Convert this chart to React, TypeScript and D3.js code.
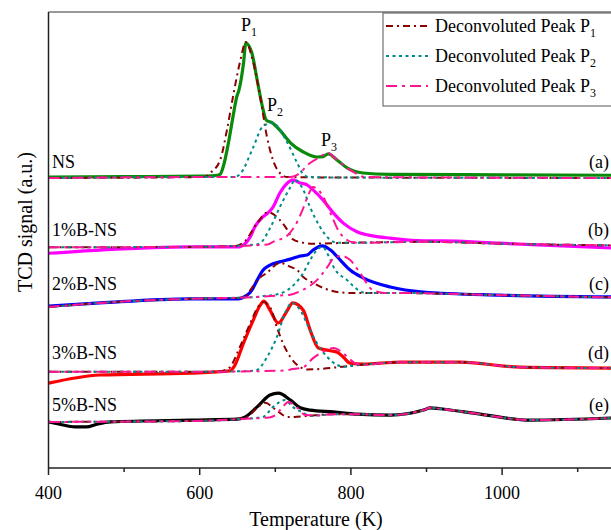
import React from "react";
import * as d3 from "d3";

type Pt = [number, number];

// ---------- data (Temperature K, TCD signal a.u.) ----------
const xMajorTicks = [400, 600, 800, 1000];
const xMinorTicks = [500, 700, 900, 1100];

// NS
const nsSignal: Pt[] = [[400,63.8],[500,63.9],[600,64.0],[620,64.1],[627,64.4],[631,66.0],[638,71.3],[644,77.0],[649,81.4],[652,82.9],[658,88.8],[661,93.2],[669,91.0],[676,85.1],[683,79.2],[688,76.3],[696,75.7],[706,74.1],[720,71.3],[737,69.3],[755,68.2],[763,68.3],[770,68.9],[782,67.5],[795,65.8],[816,64.7],[852,64.4],[1000,64.3],[1150,64.2]];
const nsBase: Pt[] = [[400,63.6],[600,63.8],[800,63.7],[1150,63.6]];
const nsP1: Pt[] = [[608,63.9],[614,64.7],[627,67.5],[636,74.1],[644,81.4],[653,88.8],[661,93.4],[670,89.5],[680,81.4],[689,72.6],[697,67.5],[706,64.7],[716,63.8]];
const nsP2: Pt[] = [[645,63.8],[653,64.4],[671,70.4],[683,74.8],[696,75.7],[716,71.3],[729,66.9],[737,64.4],[745,63.8]];
const nsP3: Pt[] = [[720,63.8],[729,64.3],[746,66.9],[759,68.2],[769,69.1],[782,67.5],[795,65.8],[808,64.5],[818,63.8]];

// 1%B-NS
const b1Signal: Pt[] = [[400,47.1],[468,47.8],[587,48.5],[653,48.5],[658,48.9],[667,50.7],[673,52.9],[683,55.0],[690,55.9],[697,57.2],[706,60.3],[716,62.5],[723,63.2],[733,62.5],[742,62.1],[750,61.0],[763,58.8],[777,55.9],[790,53.7],[808,51.8],[829,50.9],[852,50.4],[896,49.8],[918,49.8],[997,49.3],[1150,48.2]];
const b1Base: Pt[] = [[400,48.4],[600,48.5],[700,48.9],[800,49.4],[900,49.6],[1000,49.2],[1150,48.8]];
const b1P1: Pt[] = [[648,48.7],[660,49.8],[676,53.7],[690,56.1],[706,54.4],[716,52.2],[723,50.2],[737,49.4],[750,49.2]];
const b1P2: Pt[] = [[674,49.0],[680,49.3],[693,52.6],[706,57.2],[720,61.6],[726,63.2],[737,61.0],[746,57.2],[759,52.9],[773,50.0],[782,49.4],[792,49.4]];
const b1P3: Pt[] = [[690,49.0],[697,49.6],[716,51.0],[729,54.0],[737,57.0],[744,60.0],[750,61.6],[762,59.9],[773,55.9],[783,52.2],[795,50.0],[803,49.5],[812,49.4]];

// 2%B-NS
const b2Signal: Pt[] = [[400,35.5],[468,36.2],[587,37.1],[650,37.1],[656,37.3],[669,39.0],[676,41.2],[684,43.4],[693,44.5],[706,45.2],[720,45.8],[733,46.5],[742,46.7],[750,47.8],[762,48.7],[773,47.8],[786,45.6],[799,43.4],[816,41.7],[852,39.7],[896,38.6],[997,37.9],[1150,37.5]];
const b2Base: Pt[] = [[400,35.3],[468,36.2],[587,37.1],[660,37.4],[750,38.0],[800,38.4],[850,38.4],[1000,37.9],[1150,37.4]];
const b2P1: Pt[] = [[650,37.3],[660,37.6],[669,39.5],[676,41.2],[689,42.8],[706,45.0],[720,44.1],[729,43.4],[737,41.9],[750,40.6],[763,39.5],[782,38.6],[799,38.4]];
const b2P2: Pt[] = [[676,37.5],[683,37.7],[700,38.0],[716,39.0],[737,42.8],[746,45.6],[755,47.8],[762,48.5],[773,45.6],[777,44.1],[795,41.2],[812,38.8],[819,38.4],[830,38.4]];
const b2P3: Pt[] = [[712,37.9],[720,38.0],[733,38.8],[755,41.2],[769,44.1],[777,46.0],[788,46.5],[799,45.6],[812,42.8],[829,39.0],[845,38.4]];

// 3%B-NS
const b3Signal: Pt[] = [[400,18.6],[468,20.4],[587,20.8],[640,21.3],[645,22.1],[658,27.4],[671,32.5],[680,35.7],[685,36.6],[693,34.6],[704,31.8],[716,34.6],[723,36.2],[737,34.6],[746,30.3],[757,26.3],[773,25.7],[782,25.4],[790,24.3],[799,23.0],[816,22.8],[839,23.0],[865,23.2],[945,23.2],[1024,22.1],[1150,21.9]];
const b3Base: Pt[] = [[400,21.1],[600,21.1],[700,21.3],[800,22.4],[839,23.0],[865,23.2],[945,23.2],[1024,22.1],[1150,21.9]];
const b3P1: Pt[] = [[628,21.2],[634,21.5],[640,22.1],[653,26.5],[667,31.8],[677,35.3],[684,36.4],[693,35.3],[702,30.9],[710,27.4],[720,24.3],[733,22.1],[742,21.6]];
const b3P2: Pt[] = [[670,21.3],[676,21.5],[689,24.3],[702,28.7],[713,34.0],[722,36.2],[733,34.6],[744,30.9],[755,27.4],[769,24.3],[782,22.6],[792,22.2]];
const b3P3: Pt[] = [[714,21.4],[720,21.6],[737,22.1],[750,24.1],[762,25.4],[777,26.3],[788,25.4],[797,24.1],[808,22.8],[822,22.6]];

// 5%B-NS
const b5Signal: Pt[] = [[400,10.1],[415,9.6],[435,9.0],[450,9.0],[464,9.6],[482,10.1],[587,10.5],[650,10.7],[658,11.0],[676,13.4],[693,16.0],[704,16.4],[720,14.9],[733,13.2],[746,12.7],[777,12.3],[808,11.8],[852,11.6],[896,12.7],[905,13.2],[918,13.0],[971,11.8],[1037,10.5],[1150,11.0]];
const b5Base: Pt[] = [[400,10.1],[587,10.3],[660,10.8],[740,11.4],[777,11.8],[808,11.8],[852,11.6],[896,12.7],[905,13.2],[918,13.0],[971,11.8],[1037,10.5],[1150,11.0]];
const b5P1: Pt[] = [[655,10.9],[663,11.2],[676,13.2],[687,14.3],[697,13.2],[706,12.1],[716,11.2],[725,11.2]];
const b5P2: Pt[] = [[676,11.0],[684,11.2],[697,13.4],[713,14.9],[723,13.4],[737,12.1],[746,11.4],[755,11.5]];
const b5P3: Pt[] = [[692,11.1],[700,11.6],[710,13.4],[717,14.5],[729,13.2],[740,11.6],[750,11.5]];

const sampleNames = ["NS", "1%B-NS", "2%B-NS", "3%B-NS", "5%B-NS"];
const sampleTags = ["(a)", "(b)", "(c)", "(d)", "(e)"];
const sampleColors = ["#0a8a0a", "#ff00ff", "#0000ff", "#ff0000", "#000000"];
const signals = [nsSignal, b1Signal, b2Signal, b3Signal, b5Signal];
const bases = [nsBase, b1Base, b2Base, b3Base, b5Base];
const peaks = [
  [nsP1, nsP2, nsP3],
  [b1P1, b1P2, b1P3],
  [b2P1, b2P2, b2P3],
  [b3P1, b3P2, b3P3],
  [b5P1, b5P2, b5P3],
];
const labelBaselines = [168, 236, 290, 359, 411];

const peakNames = ["1", "2", "3"];
const peakColors = ["#8b0000", "#008b8b", "#ff1493"];
const peakDashes = ["7,4,2,4", "3,3.5", "11,5,3,5"];

// ---------- layout ----------
const W = 611;
const H = 530;
const left = 48.5;
const top = 12;
const bottom = 468;
const FONT = '"Liberation Serif", "Times New Roman", Tinos, "DejaVu Serif", serif';

const x = d3.scaleLinear().domain([400, 1150]).range([left, left + 750 * 0.756]);
const y = d3.scaleLinear().domain([0, 100]).range([bottom, top]);
const line = d3
  .line<Pt>()
  .x((d) => x(d[0]))
  .y((d) => y(d[1]))
  .curve(d3.curveMonotoneX);

function withBase(base: Pt[], peak: Pt[]): Pt[] {
  const t0 = peak[0][0];
  const t1 = peak[peak.length - 1][0];
  return [...base.filter((d) => d[0] < t0), ...peak, ...base.filter((d) => d[0] > t1)];
}

const txt = (size: number) => ({ fontFamily: FONT, fontSize: size + "px" });

function PLabel({ px, py, sub }: { px: number; py: number; sub: string }) {
  return (
    <text x={px} y={py} style={txt(18)} fill="#000">
      P
      <tspan style={{ fontSize: "12px" }} dy={5}>
        {sub}
      </tspan>
    </text>
  );
}

export default function App() {
  const legendRows = [26, 56, 86];
  return (
    <svg
      width={W}
      height={H}
      viewBox={`0 0 ${W} ${H}`}
      style={{ position: "absolute", left: 0, top: 0, background: "#fff", fontFamily: FONT }}
    >
      <defs>
        <clipPath id="plot">
          <rect x={left} y={top} width={W - left} height={bottom - top} />
        </clipPath>
      </defs>
      <rect x={0} y={0} width={W} height={H} fill="#fff" />

      <g clipPath="url(#plot)">
        {signals.map((s, i) => (
          <path key={"s" + i} d={line(s) || ""} fill="none" stroke={sampleColors[i]} strokeWidth={3.2} strokeLinejoin="round" />
        ))}
        {peaks.map((ps, i) =>
          ps.map((p, j) => (
            <path
              key={`p${i}-${j}`}
              d={line(withBase(bases[i], p)) || ""}
              fill="none"
              stroke={peakColors[j]}
              strokeWidth={2}
              strokeDasharray={peakDashes[j]}
            />
          ))
        )}
      </g>

      {/* frame */}
      <line x1={left} x2={W} y1={top} y2={top} stroke="#333" strokeWidth={1.2} />
      <line x1={left} x2={left} y1={top} y2={bottom} stroke="#222" strokeWidth={1.5} />
      <line x1={left} x2={W} y1={bottom} y2={bottom} stroke="#222" strokeWidth={1.5} />

      {/* x ticks */}
      {xMajorTicks.map((t) => (
        <g key={"M" + t}>
          <line x1={x(t)} x2={x(t)} y1={bottom} y2={bottom + 7} stroke="#222" strokeWidth={1.5} />
          <text x={x(t)} y={499} textAnchor="middle" style={txt(18)}>
            {t}
          </text>
        </g>
      ))}
      {xMinorTicks.map((t) => (
        <line key={"m" + t} x1={x(t)} x2={x(t)} y1={bottom} y2={bottom + 4} stroke="#222" strokeWidth={1.5} />
      ))}

      <text x={316} y={526} textAnchor="middle" style={txt(20)}>
        Temperature (K)
      </text>
      <text transform="translate(32,222) rotate(-90)" textAnchor="middle" style={txt(20)}>
        TCD signal (a.u.)
      </text>

      {/* sample labels */}
      {sampleNames.map((n, i) => (
        <text key={"n" + i} x={52} y={labelBaselines[i]} style={txt(18)}>
          {n}
        </text>
      ))}
      {sampleTags.map((n, i) => (
        <text key={"t" + i} x={609} y={labelBaselines[i]} textAnchor="end" style={txt(18)}>
          {n}
        </text>
      ))}

      {/* peak labels */}
      <PLabel px={241} py={31} sub="1" />
      <PLabel px={267} py={111} sub="2" />
      <PLabel px={321} py={146} sub="3" />

      {/* legend */}
      <rect x={383} y={13} width={240} height={93} fill="#fff" stroke="#555" strokeWidth={1} />
      {legendRows.map((ry, j) => (
        <g key={"l" + j}>
          <line x1={386} x2={428} y1={ry} y2={ry} stroke={peakColors[j]} strokeWidth={2} strokeDasharray={peakDashes[j]} />
          <text x={435} y={ry + 6} style={txt(18)}>
            Deconvoluted Peak P
            <tspan style={{ fontSize: "12px" }} dy={5}>
              {peakNames[j]}
            </tspan>
          </text>
        </g>
      ))}
    </svg>
  );
}
